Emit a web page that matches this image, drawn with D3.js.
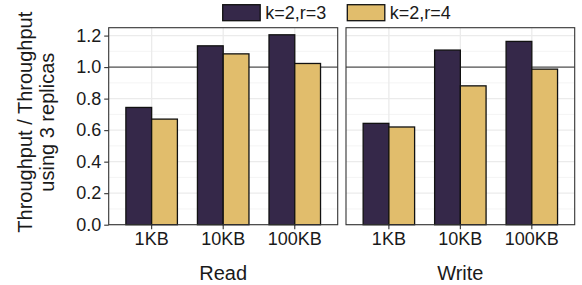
<!DOCTYPE html>
<html>
<head>
<meta charset="utf-8">
<script src="https://cdn.jsdelivr.net/npm/d3@7"></script>
<style>
  body { margin: 0; background: #fff; }
  svg text { font-family: "Liberation Sans", Arial, sans-serif; }
</style>
</head>
<body>
<div id="chart"></div>
<script>

// data
var panels = ['Read', 'Write'];
var sizes = ['1KB', '10KB', '100KB'];
var series = ['k=2,r=3', 'k=2,r=4'];
var read_r3 = [0.744, 1.135, 1.205];
var read_r4 = [0.670, 1.084, 1.023];
var write_r3 = [0.643, 1.108, 1.163];
var write_r4 = [0.620, 0.881, 0.987];
var y_ticks = [0.0, 0.2, 0.4, 0.6, 0.8, 1.0, 1.2];
var colors = ['#352849', '#e1bd6c'];

var values = {
    'Read': [read_r3, read_r4],
    'Write': [write_r3, write_r4]
};

var w = 582;
var h = 285;

var panel_top = 27.7;
var panel_bottom = 224.7;
var panel_x = { 'Read': [108.7, 337.7], 'Write': [346, 574.7] };

var svg = d3.select('#chart')
    .append('svg')
    .attr('width', w)
    .attr('height', h);

var yScale = d3.scaleLinear()
    .domain([0, 1.25])
    .range([panel_bottom, panel_top]);

var minor_ticks = d3.range(0.1, 1.25, 0.2);

panels.forEach(function(p, pi) {

    var x0 = panel_x[p][0];
    var x1 = panel_x[p][1];

    // ggplot style: 0.6 expansion on each side, bars 0.72 wide
    var xScale = d3.scaleBand()
        .domain(sizes)
        .range([x0, x1])
        .paddingInner(0.28)
        .paddingOuter(0.24);

    var bw = xScale.bandwidth();

    var xSub = d3.scaleBand()
        .domain(series)
        .range([0, bw]);

    var g = svg.append('g');

    // minor grid
    g.selectAll('line.minor')
        .data(minor_ticks)
        .enter()
        .append('line')
        .attr('x1', x0).attr('x2', x1)
        .attr('y1', function(d) { return yScale(d); })
        .attr('y2', function(d) { return yScale(d); })
        .attr('stroke', '#f4f4f4')
        .attr('stroke-width', 1);

    // major grid
    g.selectAll('line.major')
        .data(y_ticks)
        .enter()
        .append('line')
        .attr('x1', x0).attr('x2', x1)
        .attr('y1', function(d) { return yScale(d); })
        .attr('y2', function(d) { return yScale(d); })
        .attr('stroke', '#ebebeb')
        .attr('stroke-width', 1.3);

    g.selectAll('line.vgrid')
        .data(sizes)
        .enter()
        .append('line')
        .attr('x1', function(d) { return xScale(d) + bw / 2; })
        .attr('x2', function(d) { return xScale(d) + bw / 2; })
        .attr('y1', panel_top).attr('y2', panel_bottom)
        .attr('stroke', '#ebebeb')
        .attr('stroke-width', 1.3);

    // reference line at 1.0
    g.append('line')
        .attr('x1', x0).attr('x2', x1)
        .attr('y1', yScale(1)).attr('y2', yScale(1))
        .attr('stroke', '#555555')
        .attr('stroke-width', 1.3);

    // bars
    series.forEach(function(s, si) {
        g.selectAll('rect.s' + si)
            .data(values[p][si])
            .enter()
            .append('rect')
            .attr('x', function(d, i) { return xScale(sizes[i]) + xSub(s); })
            .attr('y', function(d) { return yScale(d); })
            .attr('width', xSub.bandwidth())
            .attr('height', function(d) { return yScale(0) - yScale(d); })
            .attr('fill', colors[si])
            .attr('stroke', '#111')
            .attr('stroke-width', 1.3);
    });

    // panel border
    g.append('rect')
        .attr('x', x0).attr('y', panel_top)
        .attr('width', x1 - x0).attr('height', panel_bottom - panel_top)
        .attr('fill', 'none')
        .attr('stroke', '#333')
        .attr('stroke-width', 1.1);

    // x axis
    var xAxis = d3.axisBottom(xScale).tickSize(4.5).tickPadding(3.5);
    var ax = svg.append('g')
        .attr('transform', 'translate(0,' + panel_bottom + ')')
        .call(xAxis);
    ax.select('.domain').remove();
    ax.selectAll('line').attr('stroke', '#333').attr('stroke-width', 1.1);
    ax.selectAll('text')
        .attr('font-size', 18)
        .attr('fill', '#1a1a1a');

    // panel label under axis
    svg.append('text')
        .attr('x', (xScale(sizes[1]) + bw / 2))
        .attr('y', 280)
        .attr('text-anchor', 'middle')
        .attr('font-size', 20)
        .attr('fill', '#1a1a1a')
        .text(p);
});

// y axis
var yAxis = d3.axisLeft(yScale)
    .tickValues(y_ticks)
    .tickSize(4.5)
    .tickPadding(3)
    .tickFormat(d3.format('.1f'));

var ay = svg.append('g')
    .attr('transform', 'translate(' + panel_x['Read'][0] + ',0)')
    .call(yAxis);
ay.select('.domain').remove();
ay.selectAll('line').attr('stroke', '#333').attr('stroke-width', 1.1);
ay.selectAll('text')
    .attr('font-size', 18)
    .attr('fill', '#1a1a1a');

// y title (two lines)
var ycenter = (panel_top + panel_bottom) / 2 - 4;
svg.append('text')
    .attr('transform', 'translate(32,' + ycenter + ') rotate(-90)')
    .attr('text-anchor', 'middle')
    .attr('font-size', 20)
    .attr('fill', '#1a1a1a')
    .text('Throughput / Throughput');
svg.append('text')
    .attr('transform', 'translate(54,' + ycenter + ') rotate(-90)')
    .attr('text-anchor', 'middle')
    .attr('font-size', 20)
    .attr('fill', '#1a1a1a')
    .text('using 3 replicas');

// legend
var legend_x = [222.7, 347.3];
series.forEach(function(s, si) {
    svg.append('rect')
        .attr('x', legend_x[si])
        .attr('y', 4.7)
        .attr('width', 37.5)
        .attr('height', 16)
        .attr('fill', colors[si])
        .attr('stroke', '#111')
        .attr('stroke-width', 1.3);
    svg.append('text')
        .attr('x', legend_x[si] + 42.5)
        .attr('y', 19)
        .attr('font-size', 18)
        .attr('fill', '#1a1a1a')
        .text(s);
});

</script>
</body>
</html>
